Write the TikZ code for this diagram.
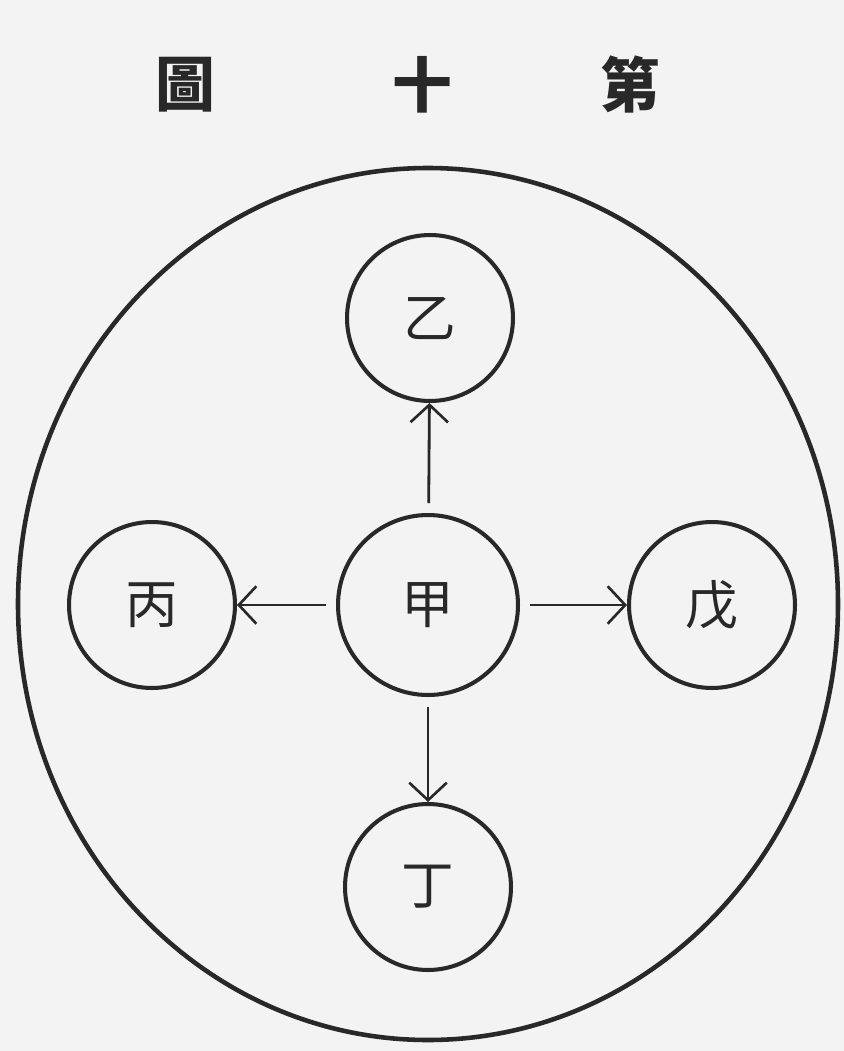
\documentclass[tikz,border=0pt]{standalone}
\usepackage{fontspec}
\newfontfamily\cjk{Noto Sans CJK TC}
\definecolor{ink1}{RGB}{40, 40, 40}
\definecolor{paper1}{RGB}{243, 243, 243}
\usepackage{tikz}
\usetikzlibrary{arrows.meta, positioning}

\begin{document}
\begin{tikzpicture}[x=0.02cm, y=-0.02cm, every node/.style={font=\cjk, text=ink1}]
  \tikzset{
    stem/.style={draw=ink1, line width=2.3pt, circle, inner sep=0pt, minimum size=3.32cm, font=\cjk\fontsize{30}{30}\selectfont},
    flow/.style={draw=ink1, line width=1.6pt, shorten <=0.2cm, -{Straight Barb[length=0.35cm, width=0.75cm, line width=1.5pt]}}
  }
  \fill[paper1] (0,0) rectangle (844,1051);
  \useasboundingbox (0,0) rectangle (844,1051);
  % title
  \node[font=\cjk\bfseries\fontsize{34}{34}\selectfont] (tzu) at (185,85) {圖};
  \node[font=\cjk\bfseries\fontsize{34}{34}\selectfont] (shi) at (422,85) {十};
  \node[font=\cjk\bfseries\fontsize{34}{34}\selectfont] (di) at (630,85) {第};
  % outer ring
  \draw[ink1, line width=2.6pt] (428,604) ellipse [x radius=410, y radius=436];
  % stems
  \node[stem, minimum size=3.6cm] (jia) at (428,605) {甲};
  \node[stem] (yi) at (430,318) {乙};
  \node[stem] (bing) at (152,605) {丙};
  \node[stem] (wu) at (712,605) {戊};
  \node[stem] (ding) at (428,887) {丁};
  \draw[flow] (jia) -- (yi);
  \draw[flow] (jia) -- (bing);
  \draw[flow] (jia) -- (wu);
  \draw[flow] (jia) -- (ding);
\end{tikzpicture}
\end{document}
